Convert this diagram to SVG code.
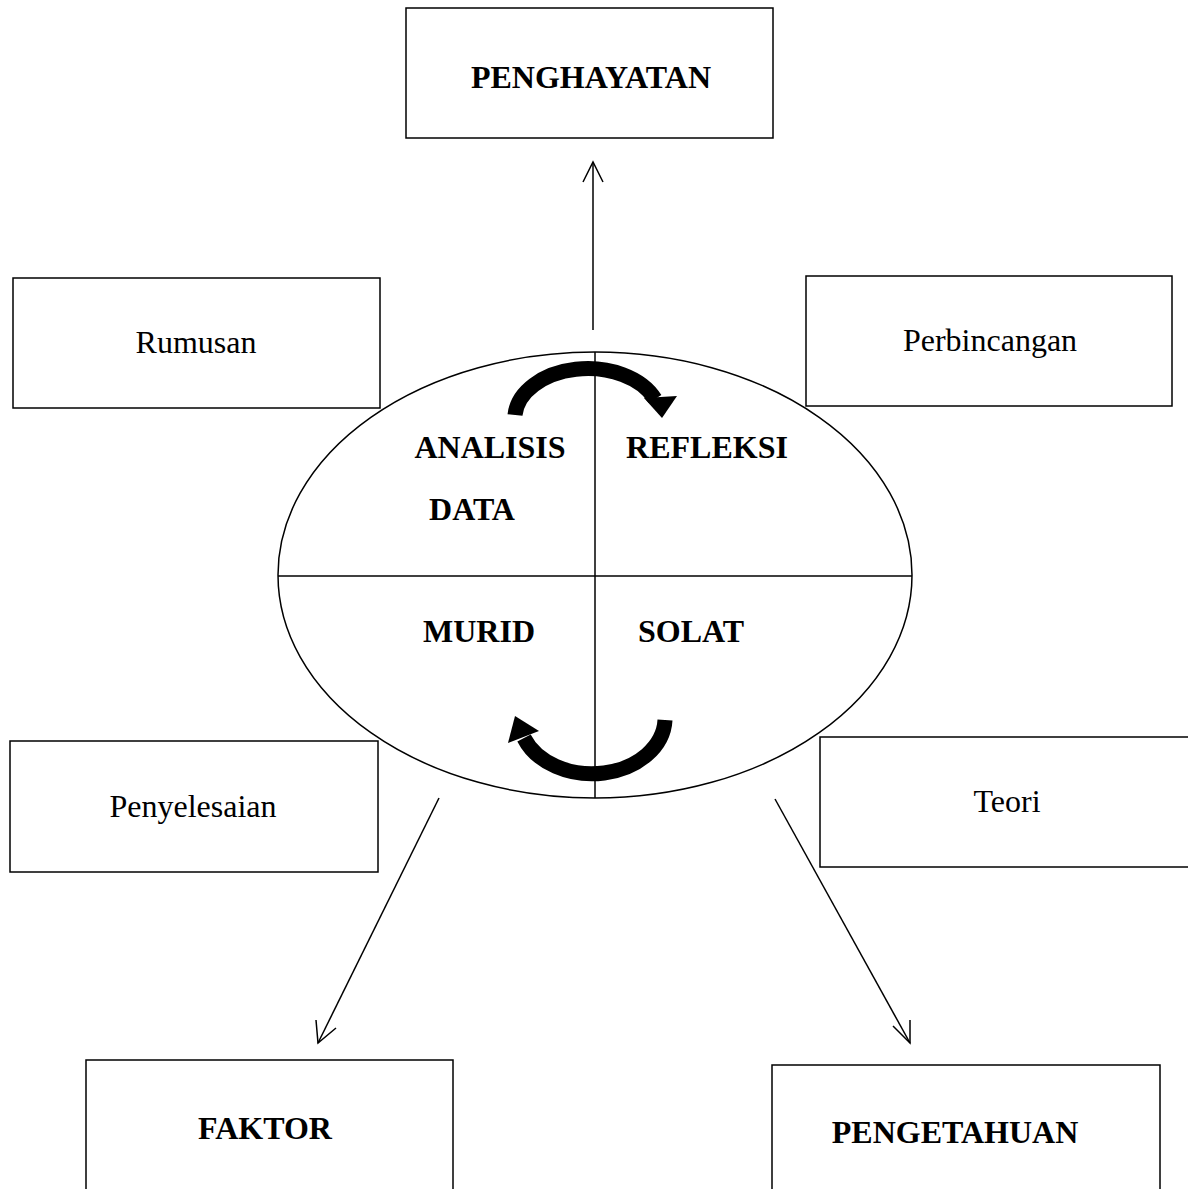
<svg xmlns="http://www.w3.org/2000/svg" width="1188" height="1189" viewBox="0 0 1188 1189">
<style>
.box{fill:#fff;stroke:#000;stroke-width:1.5}
.t{font-family:"Liberation Serif","Times New Roman",serif;font-size:32px;fill:#000}
.b{font-weight:bold}
.line{stroke:#000;stroke-width:1.5;fill:none}
.thick{stroke:#000;stroke-width:15;fill:none}
</style>
<rect width="1188" height="1189" fill="#fff"/>
<g id="penghayatan"><rect class="box" x="406" y="8" width="367" height="130"/><text class="t b" x="591" y="88" text-anchor="middle">PENGHAYATAN</text></g>
<g id="rumusan"><rect class="box" x="13" y="278" width="367" height="130"/><text class="t" x="196" y="353" text-anchor="middle">Rumusan</text></g>
<g id="perbincangan"><rect class="box" x="806" y="276" width="366" height="130"/><text class="t" x="990" y="351" text-anchor="middle">Perbincangan</text></g>
<g id="penyelesaian"><rect class="box" x="10" y="741" width="368" height="131"/><text class="t" x="193" y="817" text-anchor="middle">Penyelesaian</text></g>
<g id="teori"><rect class="box" x="820" y="737" width="370" height="130"/><text class="t" x="1007" y="812" text-anchor="middle">Teori</text></g>
<g id="faktor"><rect class="box" x="86" y="1060" width="367" height="140"/><text class="t b" x="265" y="1139" text-anchor="middle">FAKTOR</text></g>
<g id="pengetahuan"><rect class="box" x="772" y="1065" width="388" height="140"/><text class="t b" x="955" y="1143" text-anchor="middle">PENGETAHUAN</text></g>
<g id="cycle">
<ellipse class="line" cx="595" cy="575" rx="317" ry="223"/>
<line class="line" x1="595" y1="352" x2="595" y2="798"/>
<line class="line" x1="278" y1="576" x2="912" y2="576"/>
<text class="t b" x="490" y="458" text-anchor="middle">ANALISIS</text>
<text class="t b" x="472" y="520" text-anchor="middle">DATA</text>
<text class="t b" x="707" y="458" text-anchor="middle">REFLEKSI</text>
<text class="t b" x="479" y="642" text-anchor="middle">MURID</text>
<text class="t b" x="691" y="642" text-anchor="middle">SOLAT</text>
</g>
<g id="connectors">
<path class="thick" d="M515 415 A73 50 0 0 1 655 399"/>
<polygon points="644,398 677,396 662,418" fill="#000"/>
<path class="thick" stroke-width="13" d="M665 720 A73 56 0 0 1 524 738"/>
<polygon points="508,743 539,731 515,716" fill="#000"/>
<line class="line" x1="593" y1="330" x2="593" y2="162"/>
<polyline class="line" points="583,182 593,162 603,182"/>
<line class="line" x1="439" y1="798" x2="318" y2="1043"/>
<polyline class="line" points="316,1020 318,1043 336,1028"/>
<line class="line" x1="775" y1="799" x2="910" y2="1043"/>
<polyline class="line" points="893,1026 910,1043 910,1020"/>
</g>
</svg>
